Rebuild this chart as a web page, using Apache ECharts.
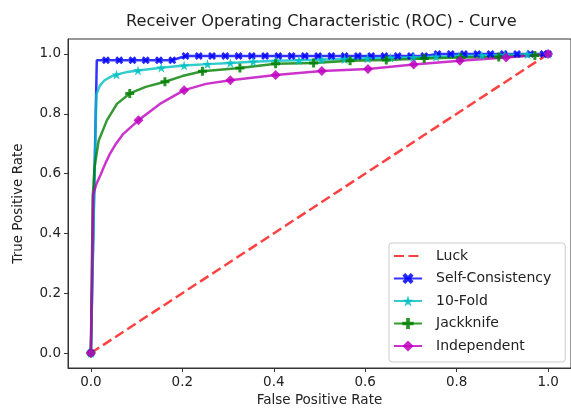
<!DOCTYPE html>
<html><head><meta charset="utf-8">
<script src="https://cdn.jsdelivr.net/npm/echarts@6/dist/echarts.min.js"></script>
<style>html,body{margin:0;padding:0;background:#fff}#c{width:571px;height:414px}</style>
</head><body><div id="c"></div>
<script>
const tickValues = [0, 0.2, 0.4, 0.6, 0.8, 1.0];
const seriesNames = ['Luck', 'Self-Consistency', '10-Fold', 'Jackknife', 'Independent'];

const luckFpr = [0, 1];
const luckTpr = [0, 1];

const selfFpr = [0, 0.013, 0.033, 0.062, 0.091, 0.120, 0.149, 0.178, 0.207, 0.236, 0.265, 0.294, 0.323, 0.352, 0.381, 0.410, 0.439, 0.468, 0.497, 0.526, 0.555, 0.584, 0.613, 0.642, 0.671, 0.700, 0.729, 0.758, 0.787, 0.816, 0.845, 0.874, 0.903, 0.932, 0.961, 0.990, 1.0];
const selfTpr = [0, 0.979, 0.979, 0.979, 0.979, 0.979, 0.979, 0.979, 0.993, 0.993, 0.993, 0.993, 0.993, 0.993, 0.993, 0.993, 0.993, 0.993, 0.993, 0.993, 0.993, 0.993, 0.993, 0.993, 0.993, 0.993, 0.993, 1.0, 1.0, 1.0, 1.0, 1.0, 1.0, 1.0, 1.0, 1.0, 1.0];
const selfMarks = [0, 2, 3, 4, 5, 6, 7, 8, 9, 10, 11, 12, 13, 14, 15, 16, 17, 18, 19, 20, 21, 22, 23, 24, 25, 26, 27, 28, 29, 30, 31, 32, 33, 34, 35, 36];

const foldFpr = [0, 0.012, 0.02, 0.03, 0.045, 0.056, 0.08, 0.103, 0.154, 0.204, 0.255, 0.305, 0.355, 0.405, 0.455, 0.505, 0.555, 0.605, 0.655, 0.705, 0.755, 0.805, 0.855, 0.905, 0.955, 1.0];
const foldTpr = [0, 0.865, 0.895, 0.912, 0.925, 0.931, 0.94, 0.945, 0.954, 0.961, 0.966, 0.97, 0.974, 0.977, 0.979, 0.981, 0.983, 0.985, 0.987, 0.989, 0.991, 0.993, 0.995, 0.997, 0.999, 1.0];
const foldMarks = [0, 5, 7, 8, 9, 10, 11, 12, 13, 14, 15, 16, 17, 18, 19, 20, 21, 22, 23, 24, 25];

const jackFpr = [0, 0.004, 0.008, 0.017, 0.035, 0.057, 0.085, 0.12, 0.162, 0.2, 0.244, 0.326, 0.404, 0.487, 0.567, 0.646, 0.729, 0.809, 0.892, 0.971, 1.0];
const jackTpr = [0, 0.52, 0.62, 0.71, 0.778, 0.833, 0.868, 0.89, 0.907, 0.926, 0.942, 0.953, 0.967, 0.97, 0.977, 0.98, 0.985, 0.988, 0.99, 0.995, 1.0];
const jackMarks = [0, 6, 8, 10, 11, 12, 13, 14, 15, 16, 17, 18, 19];

const indFpr = [0, 0.005, 0.012, 0.021, 0.032, 0.042, 0.055, 0.071, 0.104, 0.151, 0.204, 0.252, 0.305, 0.404, 0.505, 0.606, 0.706, 0.807, 0.908, 1.0];
const indTpr = [0, 0.53, 0.565, 0.595, 0.635, 0.667, 0.70, 0.733, 0.778, 0.833, 0.879, 0.9, 0.912, 0.93, 0.943, 0.95, 0.965, 0.977, 0.988, 1.0];
const indMarks = [0, 8, 10, 12, 13, 14, 15, 16, 17, 18, 19];

const FONT = 'DejaVu Sans';
const TXT = '#222';
const symX = 'path://M-1,-0.5L-0.5,-1L0,-0.5L0.5,-1L1,-0.5L0.5,0L1,0.5L0.5,1L0,0.5L-0.5,1L-1,0.5L-0.5,0Z';
const symStar = 'path://M0,-1L0.225,-0.309L0.951,-0.309L0.363,0.118L0.588,0.809L0,0.382L-0.588,0.809L-0.363,0.118L-0.951,-0.309L-0.225,-0.309Z';
const symPlus = 'path://M-0.33,-1L0.33,-1L0.33,-0.33L1,-0.33L1,0.33L0.33,0.33L0.33,1L-0.33,1L-0.33,0.33L-1,0.33L-1,-0.33L-0.33,-0.33Z';
const symDiamond = 'path://M0,-1L1,0L0,1L-1,0Z';

function curve(name, xs, ys, marks, color, symbol, size) {
  return {
    name: name, type: 'line', color: color,
    symbol: symbol, symbolSize: size, showSymbol: true,
    data: xs.map((x, i) => ({ value: [x, ys[i]], symbol: marks.indexOf(i) >= 0 ? symbol : 'none' })),
    lineStyle: { color: color, width: 2.5, opacity: 0.8 },
    itemStyle: { color: color, opacity: 0.85 },
    emphasis: { disabled: true },
    z: 3
  };
}

const legendData = seriesNames.map((n, i) => i === 0 ? { name: n, itemStyle: { opacity: 0 } } : { name: n });

const chart = echarts.init(document.getElementById('c'), null, { renderer: 'canvas' });
chart.setOption({
  animation: false,
  backgroundColor: '#fff',
  title: {
    text: 'Receiver Operating Characteristic (ROC) - Curve',
    left: 126, top: 14, padding: 0,
    textStyle: { fontFamily: FONT, fontSize: 16.2, fontWeight: 'normal', color: TXT }
  },
  grid: { left: 68, top: 39, width: 506.5, height: 329, show: true, borderColor: '#333', borderWidth: 1, backgroundColor: 'transparent' },
  legend: {
    orient: 'vertical', left: 389, top: 243,
    itemWidth: 28, itemHeight: 14, itemGap: 8.5,
    padding: [6, 14, 9, 4],
    backgroundColor: 'rgba(255,255,255,0.8)', borderColor: '#ccc', borderWidth: 1, borderRadius: 3,
    textStyle: { fontFamily: FONT, fontSize: 14, color: TXT, padding: [0, 0, 0, 9] },
    data: legendData
  },
  xAxis: {
    type: 'value', min: -0.05, max: 1.05,
    name: 'False Positive Rate', nameLocation: 'middle', nameGap: 25,
    nameTextStyle: { fontFamily: FONT, fontSize: 13.5, color: TXT },
    axisLine: { show: true, onZero: false, lineStyle: { color: '#333', width: 1 } },
    axisTick: { show: true, length: 4, customValues: tickValues, lineStyle: { color: '#333', width: 1 } },
    axisLabel: { customValues: tickValues, formatter: v => v.toFixed(1), fontFamily: FONT, fontSize: 13.5, color: TXT, margin: 7 },
    splitLine: { show: false }
  },
  yAxis: {
    type: 'value', min: -0.05, max: 1.05,
    name: 'True Positive Rate', nameLocation: 'middle', nameGap: 43,
    nameTextStyle: { fontFamily: FONT, fontSize: 13.5, color: TXT },
    axisLine: { show: true, onZero: false, lineStyle: { color: '#333', width: 1 } },
    axisTick: { show: true, length: 4, customValues: tickValues, lineStyle: { color: '#333', width: 1 } },
    axisLabel: { customValues: tickValues, formatter: v => v.toFixed(1), fontFamily: FONT, fontSize: 13.5, color: TXT, margin: 7 },
    splitLine: { show: false }
  },
  series: [
    {
      name: 'Luck', type: 'line', color: '#ff0000', symbol: 'none',
      data: luckFpr.map((x, i) => [x, luckTpr[i]]),
      lineStyle: { color: '#ff0000', width: 2.5, type: [10, 4.5], opacity: 0.75 },
      emphasis: { disabled: true }, z: 2
    },
    curve('Self-Consistency', selfFpr, selfTpr, selfMarks, '#0000ff', symX, 8),
    curve('10-Fold', foldFpr, foldTpr, foldMarks, '#00bfbf', symStar, 10),
    curve('Jackknife', jackFpr, jackTpr, jackMarks, '#008000', symPlus, 9),
    curve('Independent', indFpr, indTpr, indMarks, '#bf00bf', symDiamond, 10)
  ]
});
</script>
</body></html>
